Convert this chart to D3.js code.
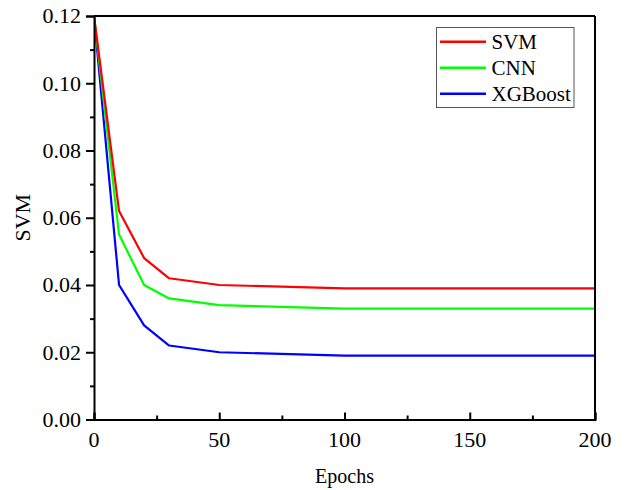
<!DOCTYPE html>
<html>
<head>
<meta charset="utf-8">
<script src="https://cdn.jsdelivr.net/npm/d3@7"></script>
<style>
html,body{margin:0;padding:0;background:#fff;}
svg text{font-family:"Liberation Serif","Times New Roman",serif;fill:#000;}
</style>
</head>
<body>
<svg id="chart" width="627" height="490"></svg>
<script>
const epochs = [0, 10, 20, 30, 50, 100, 200];
const svmValues = [0.120, 0.062, 0.048, 0.042, 0.040, 0.039, 0.039];
const cnnValues = [0.120, 0.055, 0.040, 0.036, 0.034, 0.033, 0.033];
const xgbValues = [0.120, 0.040, 0.028, 0.022, 0.020, 0.019, 0.019];
const seriesNames = ["SVM", "CNN", "XGBoost"];
const seriesColors = ["#ff0000", "#00ff00", "#0000ff"];
const xTicks = [0, 50, 100, 150, 200];
const xMinorTicks = [25, 75, 125, 175];
const yTicks = [0, 0.02, 0.04, 0.06, 0.08, 0.10, 0.12];
const yMinorTicks = [0.01, 0.03, 0.05, 0.07, 0.09, 0.11];
const xTitle = "Epochs";
const yTitle = "SVM";

const FONT = "Liberation Serif";

const series = [svmValues, cnnValues, xgbValues].map((vals, i) => ({
  name: seriesNames[i], color: seriesColors[i],
  points: epochs.map((e, j) => ({x: e, y: vals[j]}))
}));

const svg = d3.select("#chart");
const L = 94, R = 595, T = 16, B = 419.5;
const x = d3.scaleLinear().domain([0, 200]).range([L, R]);
const y = d3.scaleLinear().domain([0, 0.12]).range([B, T]);

svg.append("defs").append("clipPath").attr("id","clip")
  .append("rect").attr("x", L).attr("y", T-2).attr("width", R-L).attr("height", B-T+2);

const line = d3.line().x(d => x(d.x)).y(d => y(d.y));
const g = svg.append("g").attr("clip-path","url(#clip)");
series.slice().reverse().forEach(s => {
  g.append("path").datum(s.points).attr("d", line)
    .attr("fill","none").attr("stroke", s.color).attr("stroke-width", 2.2)
    .attr("stroke-linejoin","round");
});

// frame top/right
svg.append("line").attr("x1", L).attr("x2", R).attr("y1", T).attr("y2", T)
  .attr("stroke","#000").attr("stroke-width",2);
svg.append("line").attr("x1", R).attr("x2", R).attr("y1", T).attr("y2", B)
  .attr("stroke","#000").attr("stroke-width",2);

// x axis (ticks inward), labels drawn separately
const xAxis = svg.append("g").attr("transform", `translate(0,${B})`)
  .call(d3.axisBottom(x).tickValues(xTicks).tickSize(-7).tickFormat(""));
xAxis.select(".domain").attr("stroke-width",2);
xAxis.selectAll(".tick line").attr("stroke-width",2);
const xMinor = svg.append("g").attr("transform", `translate(0,${B})`)
  .call(d3.axisBottom(x).tickValues(xMinorTicks).tickSize(-4).tickFormat(""));
xMinor.select(".domain").remove();
xMinor.selectAll(".tick line").attr("stroke-width",2);
svg.append("g").selectAll("text").data(xTicks).join("text")
  .attr("x", d => x(d)).attr("y", 447).attr("text-anchor","middle")
  .style("font-family", FONT).style("font-size","22px")
  .text(d3.format("d"));

// y axis (ticks outward)
const yAxis = svg.append("g").attr("transform", `translate(${L},0)`)
  .call(d3.axisLeft(y).tickValues(yTicks).tickSize(8).tickFormat(""));
yAxis.select(".domain").attr("stroke-width",2);
yAxis.selectAll(".tick line").attr("stroke-width",2);
const yMinor = svg.append("g").attr("transform", `translate(${L},0)`)
  .call(d3.axisLeft(y).tickValues(yMinorTicks).tickSize(4).tickFormat(""));
yMinor.select(".domain").remove();
yMinor.selectAll(".tick line").attr("stroke-width",2);
svg.append("g").selectAll("text").data(yTicks).join("text")
  .attr("x", L - 13).attr("y", d => y(d)).attr("dy","0.34em").attr("text-anchor","end")
  .style("font-family", FONT).style("font-size","22px")
  .text(d3.format(".2f"));

// titles
svg.append("text").attr("x", (L+R)/2).attr("y", 483).attr("text-anchor","middle")
  .style("font-family", FONT).style("font-size","20px").text(xTitle);
svg.append("text").attr("transform", `translate(30,${(T+B)/2}) rotate(-90)`)
  .attr("text-anchor","middle").style("font-family", FONT).style("font-size","22px").text(yTitle);

// legend
const lg = svg.append("g");
lg.append("rect").attr("x", 436.5).attr("y", 27.5).attr("width", 137.5).attr("height", 80)
  .attr("fill","#fff").attr("stroke","#555").attr("stroke-width",1);
series.forEach((s, i) => {
  const cy = 41.7 + i * 26;
  lg.append("line").attr("x1", 440).attr("x2", 486).attr("y1", cy).attr("y2", cy)
    .attr("stroke", s.color).attr("stroke-width", 2.5);
  lg.append("text").attr("x", 491.5).attr("y", cy).attr("dy","0.35em")
    .style("font-family", FONT).style("font-size","21px").text(s.name);
});
</script>
</body>
</html>
